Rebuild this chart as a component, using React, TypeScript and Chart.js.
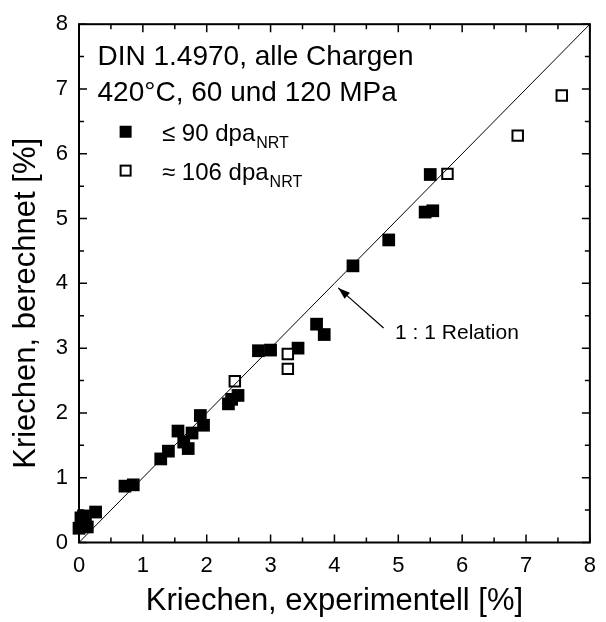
import React, { useEffect, useRef } from 'react';
import { Chart, registerables } from 'chart.js';

Chart.register(...registerables);

const FONT = '"Liberation Sans", Arial, Helvetica, sans-serif';

// ≤ 90 dpa_NRT (filled squares)
const filledX = [0.0, 0.03, 0.07, 0.1, 0.13, 0.26, 0.72, 0.85, 1.28, 1.4, 1.55, 1.64, 1.71, 1.77, 1.9, 1.95, 2.34, 2.39, 2.49, 2.81, 3.0, 3.43, 3.72, 3.84, 4.29, 4.85, 5.42, 5.54, 5.5];
const filledY = [0.22, 0.38, 0.41, 0.28, 0.24, 0.47, 0.87, 0.89, 1.29, 1.41, 1.72, 1.55, 1.45, 1.69, 1.96, 1.81, 2.14, 2.21, 2.27, 2.96, 2.97, 3.0, 3.37, 3.21, 4.27, 4.67, 5.1, 5.12, 5.68];
// ≈ 106 dpa_NRT (open squares)
const openX = [2.44, 3.27, 3.27, 5.77, 6.87, 7.56];
const openY = [2.49, 2.91, 2.68, 5.69, 6.28, 6.9];
// 1 : 1 relation line
const lineX = [0, 8];
const lineY = [0, 8];

const xTickValues = [0, 1, 2, 3, 4, 5, 6, 7, 8];
const yTickValues = [0, 1, 2, 3, 4, 5, 6, 7, 8];
const xTitle = 'Kriechen, experimentell [%]';
const yTitle = 'Kriechen, berechnet [%]';
const headerLines = ['DIN 1.4970, alle Chargen', '420°C, 60 und 120 MPa'];
const legendLabels = ['≤ 90 dpa', '≈ 106 dpa'];
const legendSub = 'NRT';
const relationLabel = '1 : 1 Relation';

const framePlugin = {
  id: 'frameAndNotes',
  afterDraw(chart: any) {
    const ctx = chart.ctx as CanvasRenderingContext2D;
    const { left, right, top, bottom } = chart.chartArea;
    const xs = chart.scales.x;
    const ys = chart.scales.y;
    ctx.save();
    ctx.strokeStyle = '#000';
    ctx.fillStyle = '#000';

    // frame
    ctx.lineWidth = 2;
    ctx.strokeRect(left, top, right - left, bottom - top);

    // inward ticks on all sides
    ctx.lineWidth = 1.5;
    ctx.beginPath();
    for (let v = 0; v <= 8.001; v += 0.5) {
      const major = Math.abs(v - Math.round(v)) < 1e-6;
      const len = major ? 8 : 5;
      const px = xs.getPixelForValue(v);
      ctx.moveTo(px, bottom); ctx.lineTo(px, bottom - len);
      ctx.moveTo(px, top); ctx.lineTo(px, top + len);
      const py = ys.getPixelForValue(v);
      ctx.moveTo(left, py); ctx.lineTo(left + len, py);
      ctx.moveTo(right, py); ctx.lineTo(right - len, py);
    }
    ctx.stroke();

    // y axis title
    ctx.save();
    ctx.font = `31px ${FONT}`;
    ctx.textAlign = 'center';
    ctx.textBaseline = 'middle';
    ctx.translate(26.5, (top + bottom) / 2 + 20);
    ctx.rotate(-Math.PI / 2);
    ctx.fillText(yTitle, 0, 0);
    ctx.restore();

    // header text
    ctx.textAlign = 'left';
    ctx.textBaseline = 'alphabetic';
    ctx.font = `28px ${FONT}`;
    ctx.fillText(headerLines[0], xs.getPixelForValue(0.29), ys.getPixelForValue(7.37));
    ctx.fillText(headerLines[1], xs.getPixelForValue(0.29), ys.getPixelForValue(6.81));

    // legend
    const mx = xs.getPixelForValue(0.73);
    const m1 = ys.getPixelForValue(6.34);
    const m2 = ys.getPixelForValue(5.74);
    ctx.fillRect(mx - 6, m1 - 6, 12, 12);
    ctx.lineWidth = 2;
    ctx.strokeRect(mx - 5, m2 - 5, 10, 10);
    const tx = xs.getPixelForValue(1.3);
    const b1 = ys.getPixelForValue(6.195);
    const b2 = ys.getPixelForValue(5.595);
    [b1, b2].forEach((b, i) => {
      ctx.font = `24px ${FONT}`;
      ctx.fillText(legendLabels[i], tx, b);
      const w = ctx.measureText(legendLabels[i]).width;
      ctx.font = `16px ${FONT}`;
      ctx.fillText(legendSub, tx + w + 1, b + 7);
    });

    // 1:1 relation arrow and label
    const ax0 = xs.getPixelForValue(4.77), ay0 = ys.getPixelForValue(3.31);
    const ax1 = xs.getPixelForValue(4.06), ay1 = ys.getPixelForValue(3.93);
    ctx.lineWidth = 1.2;
    ctx.beginPath();
    ctx.moveTo(ax0, ay0);
    ctx.lineTo(ax1, ay1);
    ctx.stroke();
    const ang = Math.atan2(ay1 - ay0, ax1 - ax0);
    const hl = 12, hw = 4;
    ctx.beginPath();
    ctx.moveTo(ax1, ay1);
    ctx.lineTo(ax1 - hl * Math.cos(ang) + hw * Math.sin(ang), ay1 - hl * Math.sin(ang) - hw * Math.cos(ang));
    ctx.lineTo(ax1 - hl * Math.cos(ang) - hw * Math.sin(ang), ay1 - hl * Math.sin(ang) + hw * Math.cos(ang));
    ctx.closePath();
    ctx.fill();
    ctx.font = `21px ${FONT}`;
    ctx.fillText(relationLabel, xs.getPixelForValue(4.95), ys.getPixelForValue(3.14));

    ctx.restore();
  },
};

export default function App() {
  const ref = useRef<HTMLCanvasElement>(null);
  useEffect(() => {
    const canvas = ref.current!;
    const chart = new Chart(canvas, {
      type: 'scatter',
      data: {
        datasets: [
          {
            type: 'line',
            data: lineX.map((x, i) => ({ x, y: lineY[i] })),
            borderColor: '#000',
            borderWidth: 1,
            pointRadius: 0,
            fill: false,
            order: 0,
          } as any,
          {
            data: filledX.map((x, i) => ({ x, y: filledY[i] })),
            pointStyle: 'rect',
            pointRadius: 9,
            pointHoverRadius: 9,
            backgroundColor: '#000',
            borderColor: '#000',
            borderWidth: 0,
            clip: false,
            order: 2,
          },
          {
            data: openX.map((x, i) => ({ x, y: openY[i] })),
            pointStyle: 'rect',
            pointRadius: 7.4,
            pointHoverRadius: 7.4,
            backgroundColor: '#fff',
            borderColor: '#000',
            borderWidth: 2,
            clip: false,
            order: 1,
          },
        ],
      },
      options: {
        responsive: false,
        animation: false,
        devicePixelRatio: 1,
        events: [],
        layout: { padding: { top: 18.5, right: 7, left: 0, bottom: 0 } },
        plugins: { legend: { display: false }, tooltip: { enabled: false } },
        scales: {
          x: {
            type: 'linear',
            min: 0,
            max: 8,
            afterFit: (s: any) => { s.height = 79.5; },
            afterBuildTicks: (s: any) => { s.ticks = xTickValues.map((v) => ({ value: v })); },
            ticks: { font: { family: FONT, size: 22 }, color: '#000', padding: 10, maxRotation: 0, autoSkip: false },
            grid: { display: false, drawTicks: false },
            border: { display: false },
            title: { display: true, text: xTitle, font: { family: FONT, size: 31 }, color: '#000', padding: { top: 0, bottom: 2 } },
          },
          y: {
            type: 'linear',
            min: 0,
            max: 8,
            afterFit: (s: any) => { s.width = 79; },
            afterBuildTicks: (s: any) => { s.ticks = yTickValues.map((v) => ({ value: v })); },
            ticks: { font: { family: FONT, size: 22 }, color: '#000', padding: 11, autoSkip: false },
            grid: { display: false, drawTicks: false },
            border: { display: false },
            title: { display: false },
          },
        },
      } as any,
      plugins: [framePlugin],
    });
    return () => chart.destroy();
  }, []);
  return (
    <div style={{ position: 'absolute', left: 0, top: 0, width: 606, height: 622, background: '#fff' }}>
      <canvas ref={ref} width={606} height={622} style={{ display: 'block' }} />
    </div>
  );
}
